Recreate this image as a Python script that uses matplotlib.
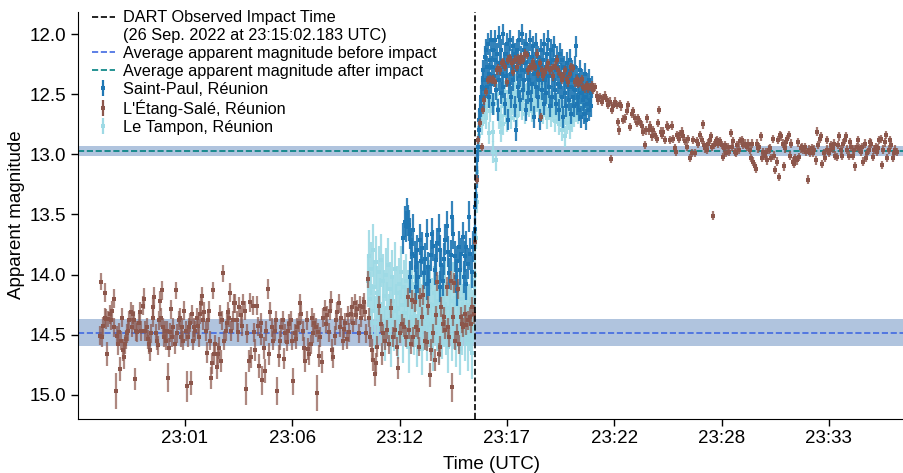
import numpy as np
import matplotlib.pyplot as plt
import matplotlib.colors as mc
from matplotlib.lines import Line2D

plt.rcParams['font.family'] = ['Liberation Sans', 'DejaVu Sans']

# time in seconds after 23:00:00 UTC (axis units), apparent magnitude, error
ETANG_PRE = [
    (-231, 14.51, .08), (-228, 14.06, .07), (-226, 14.52, .08), (-221, 14.43, .08), (-216, 14.36, .08),
    (-215, 14.15, .08), (-211, 14.37, .08), (-209, 14.66, .10), (-206, 14.37, .07), (-201, 14.33, .08),
    (-196, 14.38, .08), (-193, 14.30, .08), (-189, 14.44, .08), (-188, 14.20, .08), (-183, 14.97, .15),
    (-180, 14.51, .08), (-177, 14.58, .09), (-172, 14.48, .08), (-170, 14.79, .10), (-167, 14.55, .08),
    (-163, 14.36, .08), (-160, 14.63, .09), (-158, 14.69, .10), (-155, 14.58, .08), (-152, 14.54, .08),
    (-150, 14.49, .08), (-147, 14.47, .08), (-142, 14.38, .08), (-138, 14.31, .08), (-135, 14.44, .08),
    (-132, 14.33, .08), (-129, 14.38, .08), (-126, 14.87, .09), (-122, 14.47, .08), (-118, 14.48, .08),
    (-112, 14.40, .08), (-110, 14.31, .08), (-106, 14.47, .08), (-102, 14.26, .08), (-98, 14.20, .09),
    (-95, 14.47, .08), (-90, 14.44, .08), (-85, 14.54, .08), (-82, 14.58, .08), (-80, 14.63, .09),
    (-76, 14.49, .08), (-72, 14.36, .08), (-70, 14.27, .08), (-67, 14.19, .09), (-63, 14.49, .08),
    (-60, 14.55, .08), (-56, 14.59, .08), (-52, 14.38, .08), (-50, 14.22, .08), (-46, 14.36, .08),
    (-42, 14.13, .08), (-40, 14.44, .08), (-38, 14.52, .08), (-35, 14.47, .08), (-32, 14.55, .08),
    (-29, 14.47, .08), (-24, 14.86, .12), (-21, 14.61, .08), (-19, 14.48, .08), (-16, 14.29, .08),
    (-13, 14.52, .08), (-9, 14.44, .08), (-4, 14.58, .08), (-1, 14.13, .07), (3, 14.49, .08),
    (7, 14.38, .08), (11, 14.36, .08), (14, 14.52, .08), (17, 14.44, .08), (21, 14.55, .08),
    (24, 14.30, .08), (28, 14.47, .08), (31, 14.93, .13), (34, 14.52, .08), (37, 14.44, .08),
    (41, 14.40, .08), (44, 14.90, .10), (47, 14.33, .08), (51, 14.55, .08), (54, 14.44, .08),
    (57, 14.47, .08), (61, 14.36, .08), (64, 14.43, .08), (68, 14.52, .08), (71, 14.33, .08),
    (74, 14.24, .08), (77, 14.18, .08), (81, 14.38, .08), (84, 14.31, .08), (88, 14.47, .08),
    (91, 14.65, .09), (95, 14.38, .08), (99, 14.30, .08), (103, 14.55, .08), (105, 14.86, .09),
    (108, 14.74, .09), (111, 14.13, .07), (113, 14.66, .09), (117, 14.58, .08), (122, 14.77, .10),
    (125, 14.66, .09), (128, 14.61, .09), (132, 14.33, .08), (135, 14.72, .09), (139, 14.38, .08),
    (142, 13.99, .07), (145, 14.55, .08), (149, 14.47, .08), (152, 14.40, .08), (155, 14.31, .08),
    (158, 14.36, .08), (162, 14.15, .08), (166, 14.47, .08), (170, 14.38, .08), (174, 14.24, .08),
    (178, 14.24, .08), (182, 14.38, .08), (186, 14.48, .08), (190, 14.27, .08), (194, 14.34, .08),
    (198, 14.43, .08), (202, 14.24, .08), (206, 14.30, .08), (210, 14.95, .14), (214, 14.49, .08),
    (218, 14.72, .09), (222, 14.23, .08), (226, 14.69, .09), (230, 14.26, .08), (234, 14.48, .08),
    (238, 14.63, .09), (242, 14.26, .08), (246, 14.43, .08), (250, 14.76, .10), (254, 14.40, .08),
    (257, 14.51, .08), (260, 14.88, .12), (264, 14.61, .09), (268, 14.80, .10), (272, 14.47, .08),
    (276, 14.12, .08), (280, 14.66, .09), (284, 14.31, .08), (288, 14.44, .08), (292, 14.55, .08),
    (297, 14.47, .08), (301, 14.38, .08), (305, 14.97, .12), (309, 14.68, .09), (313, 14.55, .08),
    (317, 14.44, .08), (321, 14.38, .08), (325, 14.70, .09), (329, 14.49, .08), (333, 14.56, .08),
    (337, 14.47, .08), (341, 14.41, .08), (345, 14.38, .08), (349, 14.55, .08), (353, 14.89, .11),
    (357, 14.49, .08), (361, 14.54, .08), (365, 14.44, .08), (369, 14.40, .08), (373, 14.24, .08),
    (377, 14.33, .08), (381, 14.47, .08), (385, 14.61, .09), (389, 14.72, .09), (393, 14.38, .08),
    (397, 14.62, .09), (401, 14.66, .09), (405, 14.58, .08), (409, 14.36, .08), (413, 14.49, .08),
    (417, 14.40, .08), (421, 14.44, .08), (424, 14.99, .15), (428, 14.48, .08), (431, 14.68, .09),
    (435, 14.52, .08), (439, 14.73, .09), (443, 14.36, .08), (448, 14.29, .08), (452, 14.41, .08),
    (456, 14.34, .08), (460, 14.48, .08), (464, 14.30, .08), (467, 14.22, .08), (470, 14.63, .09),
    (474, 14.69, .09), (478, 14.51, .08), (482, 14.38, .08), (486, 14.31, .08), (490, 14.24, .08),
    (494, 14.44, .08), (498, 14.36, .08), (502, 14.55, .08), (506, 14.45, .08), (510, 14.40, .08),
    (514, 14.54, .08), (518, 14.34, .08), (522, 14.48, .08), (526, 14.33, .08), (530, 14.27, .08),
    (534, 14.40, .08), (538, 14.24, .08), (542, 14.34, .08), (546, 14.29, .08), (550, 14.49, .08),
    (554, 14.26, .08), (558, 14.36, .08), (562, 14.27, .08), (566, 14.23, .08), (570, 14.31, .08),
    (574, 14.49, .08), (578, 14.04, .07), (582, 14.36, .08), (586, 14.52, .08), (590, 14.63, .09),
    (594, 14.71, .09), (599, 14.83, .10), (603, 14.74, .09), (607, 14.60, .09), (613, 14.26, .08),
    (617, 14.41, .08), (621, 14.66, .09), (625, 14.49, .08), (631, 14.55, .08), (635, 14.46, .08),
    (641, 14.58, .08), (647, 14.28, .08), (653, 14.52, .08), (659, 14.46, .08), (665, 14.60, .08),
    (669, 14.78, .09), (675, 14.49, .08), (681, 14.41, .08), (687, 14.44, .08), (693, 14.52, .08),
    (698, 14.19, .08), (703, 14.46, .08), (707, 14.58, .08), (711, 14.21, .08), (715, 14.52, .08),
    (720, 14.23, .08), (725, 14.44, .08), (729, 14.46, .08), (733, 14.60, .08), (737, 14.19, .08),
    (741, 14.35, .08), (745, 14.17, .08), (752, 14.55, .08), (756, 14.56, .08), (761, 14.26, .08),
    (766, 14.84, .10), (770, 14.63, .09), (776, 14.49, .08), (780, 14.71, .09), (784, 14.34, .08),
    (788, 14.06, .08), (792, 14.66, .09), (796, 14.60, .09), (800, 14.27, .08), (804, 14.41, .08),
    (808, 14.35, .08), (812, 14.46, .08), (816, 14.10, .08), (820, 14.44, .08), (824, 14.52, .08),
    (828, 14.05, .08), (831, 14.94, .12), (834, 14.35, .08), (838, 14.07, .08), (842, 14.55, .08),
    (846, 14.49, .08), (850, 14.12, .08), (854, 14.58, .08), (858, 14.35, .08), (862, 14.41, .08),
    (866, 14.44, .08), (870, 14.33, .08), (876, 14.42, .08), (882, 14.38, .08), (886, 14.35, .08),
    (890, 14.41, .08), (894, 14.27, .08), (899, 14.33, .08),
]

ETANG_POST = [
    (903, 13.73), (907, 13.21), (912, 12.88), (917, 12.74), (922, 12.94), (925, 12.63), (929, 12.55),
    (935, 12.48), (942, 12.38), (947, 12.37), (952, 12.38), (957, 12.37), (962, 12.40), (967, 12.30),
    (972, 12.28), (977, 12.30), (982, 12.24), (987, 12.23), (992, 12.27), (997, 12.40), (1002, 12.21),
    (1007, 12.20), (1012, 12.24), (1017, 12.31), (1022, 12.21), (1027, 12.27), (1032, 12.20), (1037, 12.23),
    (1042, 12.19), (1047, 12.21), (1053, 12.16), (1058, 12.17), (1063, 12.30), (1068, 12.27), (1073, 12.28),
    (1078, 12.23), (1083, 12.27), (1088, 12.16), (1093, 12.33), (1098, 12.24), (1100, 12.69), (1103, 12.30),
    (1108, 12.35), (1113, 12.31), (1118, 12.27), (1123, 12.24), (1128, 12.30), (1133, 12.28), (1138, 12.35),
    (1143, 12.26), (1148, 12.21), (1153, 12.30), (1158, 12.33), (1163, 12.38), (1168, 12.35), (1173, 12.30),
    (1178, 12.37), (1183, 12.40), (1188, 12.33), (1193, 12.27), (1199, 12.28), (1204, 12.40), (1209, 12.37),
    (1214, 12.41), (1219, 12.40), (1224, 12.37), (1229, 12.44), (1234, 12.45), (1239, 12.42), (1244, 12.45),
    (1249, 12.44), (1254, 12.42), (1259, 12.46), (1264, 12.44), (1269, 12.51), (1274, 12.55), (1279, 12.52),
    (1284, 12.56), (1289, 12.53), (1294, 12.51), (1299, 12.55), (1304, 12.59), (1309, 12.56), (1311, 13.04),
    (1314, 12.63), (1319, 12.60), (1324, 12.56), (1329, 12.59), (1332, 12.73), (1336, 12.80), (1339, 12.58),
    (1344, 12.60), (1349, 12.71), (1354, 12.70), (1360, 12.64), (1365, 12.59), (1370, 12.77), (1375, 12.66),
    (1380, 12.64), (1385, 12.70), (1390, 12.74), (1395, 12.70), (1400, 12.73), (1405, 12.76), (1410, 12.81),
    (1414, 12.92), (1418, 12.80), (1422, 12.70), (1426, 12.80), (1430, 12.76), (1435, 12.85), (1440, 12.80),
    (1445, 12.84), (1450, 12.87), (1455, 12.74), (1458, 12.63), (1462, 12.81), (1466, 12.84), (1470, 12.81),
    (1475, 12.88), (1480, 12.76), (1485, 12.77), (1490, 12.88), (1495, 12.76), (1500, 12.87), (1506, 12.95),
    (1509, 12.98), (1513, 12.84), (1517, 12.87), (1521, 12.83), (1526, 12.81), (1531, 12.85), (1536, 12.89),
    (1541, 12.94), (1546, 12.87), (1551, 13.03), (1556, 12.99), (1561, 12.88), (1566, 12.99), (1571, 12.89),
    (1576, 12.91), (1581, 12.84), (1586, 12.88), (1589, 12.75), (1593, 12.92), (1597, 12.95), (1601, 12.96),
    (1606, 12.91), (1611, 12.88), (1614, 12.85), (1617, 12.94), (1621, 13.51), (1624, 12.92), (1628, 12.89),
    (1632, 12.88), (1636, 12.91), (1641, 12.89), (1646, 12.92), (1649, 13.02), (1653, 12.95), (1657, 12.92),
    (1661, 12.99), (1666, 12.94), (1670, 12.98), (1674, 12.82), (1678, 12.94), (1682, 12.89), (1686, 12.98),
    (1690, 12.99), (1694, 12.92), (1698, 12.96), (1702, 12.89), (1707, 12.88), (1712, 12.92), (1717, 12.91),
    (1722, 12.94), (1727, 12.91), (1732, 12.96), (1735, 13.03), (1739, 12.91), (1742, 13.06), (1746, 13.10),
    (1749, 13.12), (1752, 12.91), (1756, 12.95), (1760, 12.94), (1764, 12.85), (1768, 13.03), (1772, 12.98),
    (1776, 13.01), (1780, 12.98), (1784, 13.05), (1788, 12.96), (1792, 12.95), (1796, 13.03), (1800, 12.87),
    (1804, 13.01), (1809, 13.13), (1813, 13.06), (1817, 12.88), (1821, 13.19), (1824, 12.84), (1827, 12.85),
    (1831, 12.91), (1834, 13.10), (1837, 12.95), (1841, 12.90), (1845, 12.87), (1849, 12.84), (1853, 13.01),
    (1857, 12.91), (1861, 13.06), (1865, 13.08), (1869, 13.03), (1873, 13.05), (1877, 12.90), (1881, 13.02),
    (1885, 12.95), (1889, 12.94), (1893, 12.96), (1897, 12.94), (1901, 12.98), (1906, 13.21), (1910, 12.96),
    (1914, 12.99), (1918, 12.95), (1922, 12.99), (1926, 12.96), (1930, 13.05), (1934, 12.81), (1938, 12.92),
    (1942, 12.87), (1946, 12.85), (1950, 13.08), (1954, 12.99), (1958, 13.03), (1963, 12.96), (1966, 12.88),
    (1970, 12.99), (1974, 12.96), (1978, 12.92), (1982, 12.95), (1986, 12.91), (1990, 13.01), (1994, 13.02),
    (1998, 12.92), (2002, 12.85), (2006, 12.96), (2010, 13.01), (2014, 12.91), (2018, 12.88), (2022, 12.85),
    (2026, 12.96), (2030, 13.01), (2034, 12.90), (2038, 12.94), (2042, 13.01), (2046, 12.96), (2050, 13.10),
    (2054, 12.94), (2058, 12.88), (2062, 12.95), (2066, 12.98), (2070, 12.94), (2074, 13.06), (2078, 12.91),
    (2082, 13.03), (2086, 12.99), (2090, 12.96), (2094, 12.90), (2098, 12.91), (2102, 13.02), (2106, 12.96),
    (2111, 12.94), (2115, 12.98), (2119, 12.95), (2123, 12.88), (2127, 12.87), (2131, 13.09), (2135, 12.96),
    (2139, 12.90), (2143, 12.84), (2147, 13.03), (2151, 12.96), (2155, 12.88), (2159, 12.92), (2163, 13.03),
    (2167, 12.99), (2171, 12.96), (2175, 12.98),
]
ETANG_POST_ERR = 0.035

SAINT_PAUL_PRE = [
    (685, 13.70), (689, 13.56), (693, 13.60), (695, 13.49), (698, 13.55), (701, 13.59), (705, 13.66),
    (705, 14.02), (708, 13.74), (711, 13.83), (715, 13.63), (719, 13.85), (723, 13.94), (725, 14.10),
    (727, 13.80), (731, 14.02), (735, 13.71), (739, 13.89), (743, 13.78), (747, 13.99), (752, 13.87),
    (756, 13.67), (756, 14.08), (760, 13.94), (764, 14.05), (768, 13.84), (772, 13.66), (776, 13.76),
    (780, 13.96), (784, 13.88), (788, 13.74), (792, 13.63), (796, 13.80), (796, 14.10), (800, 13.92),
    (804, 14.05), (808, 13.87), (812, 13.71), (816, 13.60), (820, 13.81), (824, 13.99), (828, 13.84),
    (832, 13.52), (836, 13.66), (840, 13.85), (844, 14.02), (846, 14.13), (848, 13.89), (852, 13.77),
    (856, 13.96), (860, 13.83), (864, 13.69), (868, 14.02), (872, 13.85), (876, 13.77), (876, 14.08),
    (880, 13.91), (884, 13.52), (888, 13.83), (893, 13.98), (897, 13.77), (901, 13.44),
]
SAINT_PAUL_PRE_ERR = 0.13

SAINT_PAUL_POST = [
    (903, 13.62), (905, 13.35), (907, 13.19), (909, 13.05), (911, 12.94), (913, 12.80), (915, 12.71),
    (917, 12.63), (919, 12.52), (921, 12.60), (923, 12.44), (925, 12.38), (927, 12.30), (929, 12.52),
    (931, 12.19), (933, 12.38), (935, 12.13), (937, 12.44), (939, 12.27), (941, 12.08), (943, 12.33),
    (945, 12.52), (947, 12.21), (949, 12.05), (951, 12.41), (953, 12.27), (955, 12.58), (957, 12.13),
    (959, 12.35), (961, 12.21), (963, 12.05), (965, 12.46), (967, 12.30), (969, 12.16), (971, 12.63),
    (973, 12.38), (975, 12.02), (977, 12.24), (979, 12.49), (981, 12.13), (983, 12.33), (985, 12.00),
    (987, 12.44), (989, 12.27), (991, 12.16), (993, 12.58), (995, 12.35), (997, 12.08), (999, 12.24),
    (1001, 12.71), (1003, 12.41), (1005, 12.19), (1007, 12.05), (1009, 12.33), (1011, 12.52), (1013, 12.21),
    (1015, 12.10), (1017, 12.38), (1019, 12.27), (1021, 12.60), (1023, 12.16), (1025, 12.80), (1027, 12.30),
    (1029, 12.13), (1031, 12.44), (1033, 12.24), (1035, 12.05), (1037, 12.35), (1039, 12.55), (1041, 12.19),
    (1043, 12.00), (1045, 12.30), (1047, 12.46), (1049, 12.13), (1051, 12.38), (1053, 12.24), (1055, 12.63),
    (1057, 12.08), (1059, 12.30), (1061, 12.49), (1063, 12.16), (1065, 12.38), (1067, 12.05), (1069, 12.27),
    (1071, 12.55), (1073, 12.19), (1075, 12.41), (1077, 12.10), (1079, 12.33), (1081, 12.69), (1083, 12.24),
    (1085, 12.44), (1087, 12.08), (1089, 12.30), (1091, 12.52), (1093, 12.19), (1095, 12.38), (1097, 12.71),
    (1099, 12.27), (1101, 12.13), (1103, 12.46), (1105, 12.33), (1107, 12.21), (1109, 12.58), (1111, 12.08),
    (1113, 12.38), (1115, 12.27), (1117, 12.49), (1119, 12.16), (1121, 12.35), (1123, 12.05), (1125, 12.44),
    (1127, 12.24), (1129, 12.60), (1131, 12.13), (1133, 12.35), (1135, 12.52), (1137, 12.21), (1139, 12.38),
    (1141, 12.10), (1143, 12.46), (1145, 12.30), (1147, 12.58), (1149, 12.19), (1151, 12.41), (1153, 12.27),
    (1155, 12.63), (1157, 12.16), (1159, 12.44), (1161, 12.33), (1163, 12.52), (1165, 12.21), (1167, 12.69),
    (1169, 12.38), (1171, 12.27), (1173, 12.49), (1175, 12.35), (1177, 12.60), (1179, 12.24), (1181, 12.44),
    (1183, 12.33), (1185, 12.55), (1187, 12.38), (1189, 12.21), (1191, 12.66), (1193, 12.44), (1195, 12.30),
    (1197, 12.52), (1199, 12.38), (1201, 12.60), (1203, 12.27), (1205, 12.46), (1207, 12.10), (1209, 12.58),
    (1211, 12.35), (1213, 12.52), (1215, 12.41), (1217, 12.63), (1219, 12.30), (1221, 12.49), (1223, 12.69),
    (1225, 12.38), (1227, 12.55), (1229, 12.44), (1231, 12.66), (1233, 12.33), (1235, 12.52), (1237, 12.71),
    (1239, 12.41), (1241, 12.58), (1243, 12.46), (1245, 12.63), (1247, 12.38), (1249, 12.55), (1251, 12.49),
    (1253, 12.60), (1255, 12.44),
]
SAINT_PAUL_POST_ERR = 0.09

TAMPON_PRE = [
    (578, 14.05), (581, 13.85), (584, 14.20), (587, 13.95), (590, 14.30), (593, 13.80), (596, 14.10),
    (599, 14.40), (602, 13.90), (605, 14.15), (608, 14.35), (611, 13.98), (614, 14.25), (617, 13.88),
    (620, 14.45), (623, 14.05), (626, 14.18), (629, 14.50), (632, 14.00), (635, 14.28), (638, 13.92),
    (641, 14.38), (644, 14.12), (647, 14.55), (650, 14.02), (653, 14.22), (656, 14.42), (659, 13.95),
    (662, 14.30), (665, 14.15), (668, 14.48), (671, 14.08), (674, 14.35), (677, 13.98), (680, 14.25),
    (683, 14.52), (686, 14.10), (689, 14.32), (692, 14.05), (695, 14.40), (698, 14.18), (701, 14.60),
    (704, 14.12), (707, 14.35), (710, 14.02), (713, 14.28), (716, 14.45), (719, 14.15), (722, 14.38),
    (725, 14.08), (728, 14.55), (731, 14.22), (734, 14.42), (737, 14.12), (740, 14.30), (743, 14.62),
    (746, 14.18), (749, 14.40), (752, 14.05), (755, 14.33), (758, 14.50), (761, 14.20), (764, 14.38),
    (767, 14.10), (770, 14.45), (773, 14.25), (776, 14.58), (779, 14.15), (782, 14.35), (785, 14.05),
    (788, 14.42), (791, 14.22), (794, 14.52), (797, 14.12), (800, 14.32), (803, 14.48), (806, 14.18),
    (809, 14.38), (812, 14.08), (815, 14.45), (818, 14.28), (821, 14.60), (824, 14.15), (827, 14.35),
    (830, 14.22), (833, 14.50), (836, 14.12), (839, 14.40), (842, 14.25), (845, 14.55), (848, 14.18),
    (851, 14.38), (854, 14.28), (857, 14.62), (860, 14.20), (863, 14.45), (866, 14.30), (869, 14.15),
    (872, 14.50), (875, 14.35), (878, 14.25), (881, 14.58), (884, 14.30), (887, 14.42), (890, 14.20),
    (893, 14.65), (896, 14.35), (899, 14.25), (902, 14.00),
]
TAMPON_PRE_ERR = 0.22

TAMPON_POST = [
    (905, 13.70), (907, 13.40), (909, 13.15), (911, 12.95), (913, 12.85), (915, 12.78), (918, 12.70),
    (921, 12.62), (924, 12.75), (927, 12.58), (930, 12.66), (933, 12.52), (936, 12.70), (939, 12.60),
    (942, 12.48), (945, 12.82), (948, 12.64), (951, 12.55), (955, 12.98), (957, 12.81), (960, 12.58),
    (966, 13.05), (969, 12.50), (972, 12.62), (975, 12.70), (979, 12.81), (981, 12.68), (984, 12.52),
    (987, 12.75), (990, 12.60), (993, 12.48), (996, 12.66), (999, 12.72), (1002, 12.55), (1005, 12.62),
    (1008, 12.45), (1011, 12.70), (1014, 12.58), (1017, 12.50), (1020, 12.64), (1023, 12.42), (1026, 12.56),
    (1029, 12.68), (1032, 12.48), (1035, 12.60), (1038, 12.52), (1041, 12.40), (1044, 12.62), (1047, 12.55),
    (1050, 12.46), (1053, 12.66), (1056, 12.50), (1059, 12.58), (1062, 12.42), (1065, 12.60), (1068, 12.52),
    (1071, 12.45), (1074, 12.64), (1077, 12.55), (1080, 12.48), (1083, 12.60), (1086, 12.40), (1089, 12.56),
    (1092, 12.50), (1095, 12.62), (1098, 12.46), (1101, 12.58), (1104, 12.52), (1107, 12.66), (1110, 12.48),
    (1113, 12.60), (1116, 12.55), (1119, 12.70), (1122, 12.50), (1125, 12.62), (1128, 12.56), (1131, 12.68),
    (1134, 12.52), (1137, 12.64), (1140, 12.58), (1143, 12.72), (1146, 12.60), (1149, 12.66), (1152, 12.55),
    (1155, 12.75), (1158, 12.62), (1161, 12.68), (1164, 12.80), (1167, 12.64), (1170, 12.72), (1173, 12.85),
    (1176, 12.66), (1179, 12.74), (1182, 12.60), (1185, 12.70), (1188, 12.78), (1191, 12.64), (1194, 12.72),
    (1197, 12.60), (1200, 12.68), (1203, 12.56), (1206, 12.64), (1209, 12.58), (1212, 12.66), (1215, 12.52),
    (1218, 12.62), (1221, 12.55), (1224, 12.60), (1227, 12.50), (1230, 12.58), (1233, 12.54), (1236, 12.62),
    (1239, 12.50), (1242, 12.56), (1245, 12.60),
]
TAMPON_POST_ERR = 0.09

IMPACT_T = 902.183  # 23:15:02.183
MEAN_BEFORE, BAND_BEFORE = 14.484, (14.373, 14.595)
MEAN_AFTER, BAND_AFTER = 12.972, (12.930, 13.013)

TICK_POS = [26, 350, 674, 998, 1322, 1646, 1970]
TICK_LABELS = ['23:01', '23:06', '23:12', '23:17', '23:22', '23:28', '23:33']

C_SP = '#1f77b4'
C_ES = '#8c564b'
C_LT = '#9edae5'


def cols(rows):
    a = np.array(rows, dtype=float)
    return [a[:, i] for i in range(a.shape[1])]


def faded(c, a):
    r, g, b = mc.to_rgb(c)
    return (r, g, b, a)


fig = plt.figure(figsize=(9.04, 4.73), dpi=100)
ax = fig.add_axes([0.0863, 0.1152, 0.9137, 0.8601])

ax.axhspan(*BAND_BEFORE, color='lightsteelblue', lw=0, zorder=0.5)
ax.axhspan(*BAND_AFTER, color='lightsteelblue', lw=0, zorder=0.5)
ax.axhline(MEAN_BEFORE, color='royalblue', ls='--', lw=1.2, zorder=1.5)
ax.axhline(MEAN_AFTER, color='teal', ls='--', lw=1.2, zorder=1.5)

kw = dict(fmt='s', ms=2.5, capsize=0, elinewidth=1.6, mew=0)

t, m = cols(TAMPON_PRE)
ax.errorbar(t, m, yerr=TAMPON_PRE_ERR, color=C_LT, ecolor=faded(C_LT, 0.9), zorder=2, **kw)
t, m = cols(TAMPON_POST)
ax.errorbar(t, m, yerr=TAMPON_POST_ERR, color=C_LT, ecolor=faded(C_LT, 0.9), zorder=2, **kw)

t, m = cols(SAINT_PAUL_PRE)
ax.errorbar(t, m, yerr=SAINT_PAUL_PRE_ERR, color=C_SP, ecolor=faded(C_SP, 0.9), zorder=2.2, **kw)
t, m = cols(SAINT_PAUL_POST)
ax.errorbar(t, m, yerr=SAINT_PAUL_POST_ERR, color=C_SP, ecolor=faded(C_SP, 0.9), zorder=2.2, **kw)

t, m, e = cols(ETANG_PRE)
ax.errorbar(t, m, yerr=e, color=C_ES, ecolor=faded(C_ES, 0.7), zorder=2.4, **kw)
t, m = cols(ETANG_POST)
ax.errorbar(t, m, yerr=ETANG_POST_ERR, color=C_ES, ecolor=faded(C_ES, 0.8), zorder=2.4, **kw)

ax.axvline(IMPACT_T, color='black', ls='--', lw=1.2, zorder=5)

ax.set_xlim(-297, 2197)
ax.set_ylim(15.2, 11.81)
ax.set_yticks([12.0, 12.5, 13.0, 13.5, 14.0, 14.5, 15.0])
ax.set_yticklabels(['12.0', '12.5', '13.0', '13.5', '14.0', '14.5', '15.0'])
ax.set_xticks(TICK_POS)
ax.set_xticklabels(TICK_LABELS)
ax.tick_params(labelsize=13.5, length=5, width=1, direction='out')
for s in ('top', 'right'):
    ax.spines[s].set_visible(False)
ax.set_xlabel('Time (UTC)', fontsize=13.5, labelpad=6)
ax.set_ylabel('Apparent magnitude', fontsize=13.5, labelpad=3)

eb = lambda c: ax.errorbar([], [], yerr=[], color=c, **kw)
handles = [
    Line2D([], [], color='black', ls='--', lw=1.2),
    Line2D([], [], color='none'),
    Line2D([], [], color='royalblue', ls='--', lw=1.2),
    Line2D([], [], color='teal', ls='--', lw=1.2),
    eb(C_SP), eb(C_ES), eb(C_LT),
]
labels = [
    'DART Observed Impact Time',
    '(26 Sep. 2022 at 23:15:02.183 UTC)',
    'Average apparent magnitude before impact',
    'Average apparent magnitude after impact',
    'Saint-Paul, Réunion',
    "L'Étang-Salé, Réunion",
    'Le Tampon, Réunion',
]
ax.legend(handles, labels, loc='upper left', bbox_to_anchor=(0.017, 1.003), frameon=False,
          fontsize=11.7, labelspacing=0.17, handlelength=1.4, handletextpad=0.5,
          borderpad=0, borderaxespad=0)

fig.savefig('out.png', dpi=100)
